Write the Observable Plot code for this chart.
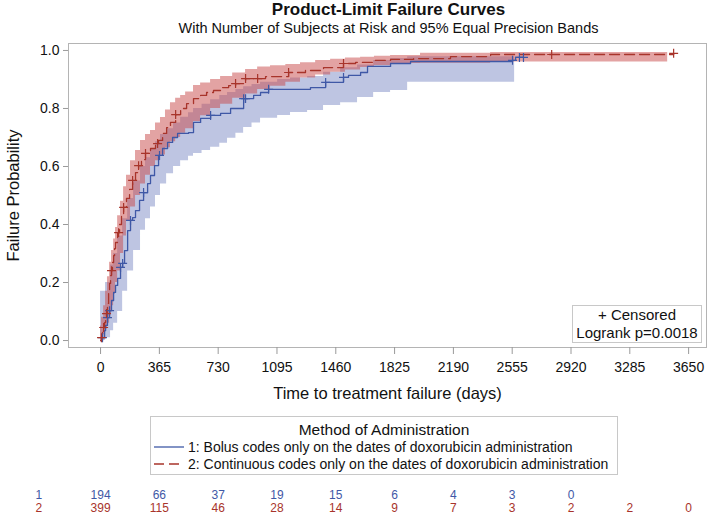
<!DOCTYPE html>
<html><head><meta charset="utf-8">
<script src="https://cdn.jsdelivr.net/npm/d3@7"></script>
<script src="https://cdn.jsdelivr.net/npm/@observablehq/plot@0.6"></script>
<style>
body{margin:0;background:#fff;}
#root{position:relative;width:709px;height:518px;font-family:"Liberation Sans",Arial,sans-serif;color:#111;overflow:hidden}
.abs{position:absolute;white-space:nowrap;}
svg{overflow:visible}
</style></head><body><div id="root"></div>
<script>
// ---------- data ----------
const titleText = "Product-Limit Failure Curves";
const subtitleText = "With Number of Subjects at Risk and 95% Equal Precision Bands";
const xLabel = "Time to treatment failure (days)";
const yLabel = "Failure Probability";
const legendTitle = "Method of Administration";
const groupNames = ["1: Bolus codes only on the dates of doxorubicin administration",
                    "2: Continuous codes only on the dates of doxorubicin administration"];
const insetLines = ["+ Censored", "Logrank p=0.0018"];
const xTicks = [0,365,730,1095,1460,1825,2190,2555,2920,3285,3650];
const yTicks = [0,0.2,0.4,0.6,0.8,1.0];

// Group 1 (Bolus) failure curve
const t1 = [0,12,25,31,43,56,68,81,93,106,124,137,149,168,186,199,217,242,267,292,310,335,360,385,416,447,478,546,577,621,683,745,807,888,950,993,1043,1303,1397,1508,1539,1614,1657,1800,1924,2557,2576,2625];
const p1 = [0,0.010,0.034,0.052,0.079,0.103,0.138,0.166,0.19,0.214,0.252,0.266,0.31,0.379,0.414,0.424,0.448,0.483,0.51,0.541,0.569,0.603,0.638,0.662,0.683,0.70,0.714,0.717,0.752,0.766,0.776,0.783,0.80,0.834,0.845,0.855,0.866,0.872,0.89,0.907,0.914,0.924,0.945,0.955,0.962,0.966,0.976,0.976];
const cens1 = [12,43,56,124,137,186,267,366,683,888,900,1043,1397,1508,2557,2600,2625];

// Group 2 (Continuous) failure curve
const t2 = [0,6,12,19,25,31,37,43,50,56,62,68,74,81,87,93,106,118,130,143,161,180,199,217,236,254,279,310,341,360,385,410,434,466,497,534,577,621,658,701,745,795,838,900,1024,1167,1272,1384,1508,1583,1695,1800,1943,2172,2421,3557];
const p2 = [0,0.010,0.028,0.045,0.062,0.076,0.093,0.128,0.162,0.197,0.224,0.241,0.269,0.293,0.317,0.338,0.372,0.40,0.434,0.459,0.49,0.521,0.552,0.579,0.603,0.624,0.645,0.662,0.679,0.69,0.714,0.734,0.752,0.779,0.80,0.817,0.834,0.845,0.855,0.862,0.872,0.879,0.886,0.903,0.91,0.924,0.931,0.941,0.955,0.959,0.966,0.969,0.972,0.979,0.986,0.99];
const cens2 = [6,19,37,68,112,143,199,236,279,354,466,838,900,975,1167,1508,2800,3557];

// 95% equal precision bands
const b1t  = [0,31,62,81,106,137,168,205,248,279,310,341,372,410,453,497,546,577,630,683,740,788,840,888,940,993,1099,1179,1285,1384,1490,1595,1695,1800,1906,2570];
const b1lo = [0,0.01,0.034,0.06,0.10,0.17,0.24,0.31,0.38,0.42,0.46,0.50,0.54,0.575,0.60,0.62,0.635,0.645,0.655,0.666,0.68,0.697,0.715,0.734,0.75,0.766,0.776,0.786,0.793,0.81,0.82,0.838,0.855,0.862,0.89,0.89];
const b1hi = [0.17,0.2,0.26,0.30,0.36,0.42,0.49,0.55,0.60,0.63,0.66,0.685,0.71,0.73,0.75,0.77,0.785,0.80,0.815,0.83,0.845,0.855,0.865,0.875,0.883,0.89,0.9,0.905,0.91,0.925,0.94,0.95,0.965,0.972,0.978,0.98];

const b2t  = [0,6,19,31,43,56,68,81,93,106,124,143,161,186,217,248,279,310,341,372,403,434,466,497,528,577,621,683,745,820,900,975,1055,1150,1241,1335,1428,1520,1614,1700,1800,1986,2421,3520];
const b2lo = [0,0.005,0.02,0.04,0.06,0.09,0.12,0.16,0.2,0.24,0.3,0.36,0.41,0.46,0.5,0.54,0.57,0.6,0.62,0.64,0.665,0.685,0.70,0.715,0.73,0.755,0.775,0.80,0.815,0.835,0.85,0.865,0.877,0.89,0.905,0.915,0.925,0.933,0.941,0.948,0.955,0.956,0.96,0.96];
const b2hi = [0.05,0.08,0.12,0.17,0.22,0.27,0.31,0.35,0.39,0.43,0.48,0.53,0.57,0.62,0.655,0.69,0.71,0.724,0.75,0.769,0.795,0.82,0.835,0.845,0.857,0.879,0.888,0.90,0.91,0.922,0.934,0.943,0.947,0.952,0.958,0.965,0.97,0.974,0.977,0.98,0.983,0.99,0.993,0.993];

// Number at risk
const riskTimes = xTicks;
const risk1 = [194,66,37,19,15,6,4,3,0];
const risk2 = [399,115,46,28,14,9,7,3,2,2,0];

// ---------- styling ----------
const BLUE = "#3f58a6", RED = "#a8342b";
const FONT = "'Liberation Sans', Arial, sans-serif";
const XDOM = [-199, 3761], YDOM = [-0.024, 1.024];
const ML = 68, MR = 3;

const zip = (t, p) => t.map((d, i) => ({t: d, p: p[i]}));
const band = (t, lo, hi) => t.map((d, i) => ({t: d, lo: lo[i], hi: hi[i]}));
function stepAt(t, p, x) { const i = d3.bisectRight(t, x) - 1; return p[Math.max(0, i)]; }
const curve1 = zip(t1, p1), curve2 = zip(t2, p2);
const c1 = cens1.map(x => ({t: x, p: stepAt(t1, p1, x)}));
const c2 = cens2.map(x => ({t: x, p: stepAt(t2, p2, x)}));

const root = document.getElementById("root");
function addDiv(html, css) { const d = document.createElement("div"); d.className = "abs"; d.innerHTML = html; Object.assign(d.style, css); root.appendChild(d); return d; }

const main = Plot.plot({
  width: 709, height: 410, marginTop: 43, marginBottom: 63, marginLeft: ML, marginRight: MR,
  style: {fontFamily: FONT, fontSize: "14px", color: "#111", background: "transparent"},
  x: {domain: XDOM}, y: {domain: YDOM},
  marks: [
    Plot.areaY(band(b1t, b1lo, b1hi), {x: "t", y1: "lo", y2: "hi", curve: "step-after", fill: "#6f7fbf", fillOpacity: 0.45}),
    Plot.areaY(band(b2t, b2lo, b2hi), {x: "t", y1: "lo", y2: "hi", curve: "step-after", fill: "#c84848", fillOpacity: 0.5}),
    Plot.line(curve1, {x: "t", y: "p", curve: "step-after", stroke: BLUE, strokeWidth: 1.3}),
    Plot.line(curve2, {x: "t", y: "p", curve: "step-after", stroke: RED, strokeWidth: 1.3, strokeDasharray: "10,5"}),
    Plot.dot(c1, {x: "t", y: "p", symbol: "plus", r: 3, stroke: BLUE, strokeWidth: 1.2}),
    Plot.dot(c2, {x: "t", y: "p", symbol: "plus", r: 3, stroke: RED, strokeWidth: 1.2}),
    Plot.frame({stroke: "#b4b4b4"}),
    Plot.axisX({ticks: xTicks, tickSize: 7, tickPadding: 8, tickFormat: d => String(d), label: null, stroke: "#9a9a9a"}),
    Plot.axisY({ticks: yTicks, tickSize: 5, tickPadding: 4, tickFormat: d3.format(".1f"), label: null, stroke: "#9a9a9a"}),
    Plot.text([xLabel], {text: d => d, frameAnchor: "bottom", lineAnchor: "middle", dy: 46, fontSize: 16.5, fill: "#111"}),
    Plot.text([yLabel], {text: d => d, frameAnchor: "left", textAnchor: "middle", lineAnchor: "middle", dx: -55, rotate: -90, fontSize: 16.5, fill: "#111"})
  ]
});
main.style.position = "absolute"; main.style.left = "0px"; main.style.top = "0px";
root.appendChild(main);

// titles
addDiv(titleText, {left: ML + "px", width: (709 - ML) + "px", top: "1px", textAlign: "center", fontWeight: "bold", fontSize: "17px", lineHeight: "18px"});
addDiv(subtitleText, {left: ML + "px", width: (709 - ML) + "px", top: "20px", textAlign: "center", fontSize: "14.5px", lineHeight: "16px"});

// inset box
addDiv(insetLines.join("<br>"), {left: "572px", top: "305px", width: "128px", height: "36px", border: "1px solid #c8c8c8", textAlign: "center", fontSize: "15px", lineHeight: "18px", background: "#fff"});

// legend
const lg = addDiv("", {left: "150px", top: "416px", width: "466px", height: "57px", border: "1px solid #c8c8c8", background: "#fff"});
lg.innerHTML = `<div style="text-align:center;font-size:15.5px;line-height:17px;margin-top:4px">${legendTitle}</div>` +
  groupNames.map((g, i) => `<div style="display:flex;align-items:center;height:17px;font-size:14px"><svg width="34" height="10" style="margin-left:1px"><line x1="2" x2="32" y1="5" y2="5" stroke="${i ? RED : BLUE}" stroke-width="1.3" ${i ? 'stroke-dasharray="10,5"' : ''}/></svg><span style="margin-left:2px">${g}</span></div>`).join("");

// at-risk table
const risk = Plot.plot({
  width: 709, height: 26, marginTop: 0, marginBottom: 0, marginLeft: ML, marginRight: MR,
  style: {fontFamily: FONT, background: "transparent"},
  x: {domain: XDOM, axis: null}, y: {type: "point", domain: ["1", "2"], axis: null, padding: 0.5},
  marks: [
    Plot.text(risk1, {x: (d, i) => riskTimes[i], y: () => "1", text: d => d, fill: BLUE, fontSize: 12}),
    Plot.text(risk2, {x: (d, i) => riskTimes[i], y: () => "2", text: d => d, fill: RED, fontSize: 12}),
    Plot.text(["1"], {y: d => d, text: d => d, fill: BLUE, frameAnchor: "left", dx: -33, fontSize: 12}),
    Plot.text(["2"], {y: d => d, text: d => d, fill: RED, frameAnchor: "left", dx: -33, fontSize: 12})
  ]
});
risk.style.position = "absolute"; risk.style.left = "0px"; risk.style.top = "488px";
root.appendChild(risk);
</script></body></html>
